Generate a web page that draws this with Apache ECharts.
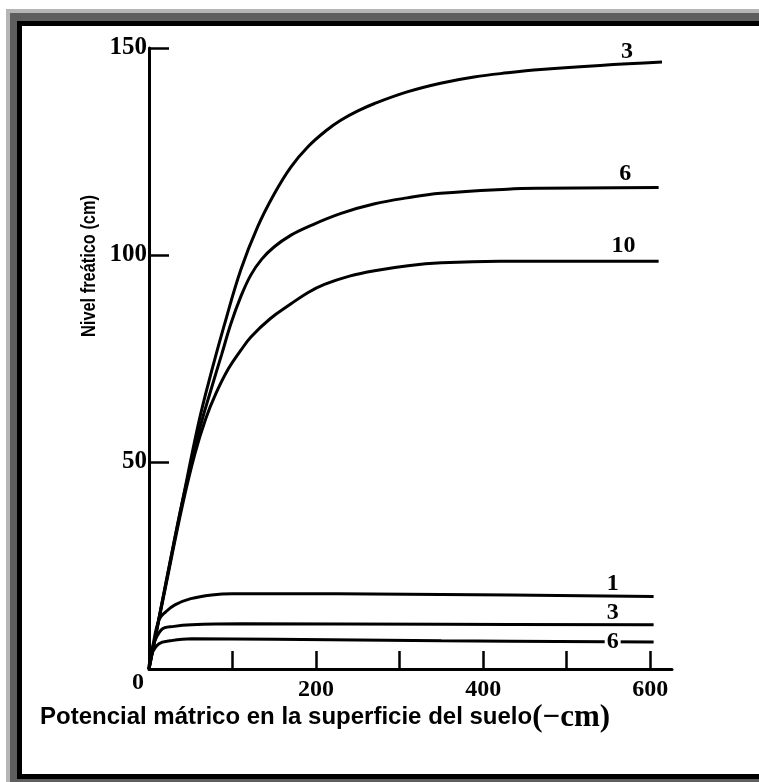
<!DOCTYPE html>
<html><head><meta charset="utf-8">
<script src="https://cdn.jsdelivr.net/npm/echarts@6/dist/echarts.min.js"></script>
<style>html,body{margin:0;padding:0;background:#fff}#c{width:759px;height:782px}</style>
</head><body><div id="c"></div>
<script>
// ---- data (x: -cm, y: cm) ----
const xTop3  = [0, 20, 40, 60, 75, 90, 110, 130, 150, 170, 190, 213, 230, 250, 270, 309, 349, 389, 429, 469, 540, 614];
const yTop3  = [0, 20.5, 40.5, 60, 72, 83, 96.5, 106.8, 114.8, 121.3, 126.1, 130.2, 132.6, 134.8, 136.6, 139.4, 141.5, 143, 144, 144.8, 145.8, 146.6];
const xTop6  = [0, 20, 40, 60, 75, 87, 98, 110, 122, 135, 150, 170, 190, 229, 269, 309, 349, 429, 468, 610];
const yTop6  = [0, 20.5, 40.5, 57.5, 68, 76, 83.4, 90, 95.2, 99, 102, 104.8, 106.8, 110, 112.3, 113.8, 114.9, 115.9, 116.1, 116.3];
const xTop10 = [0, 20, 40, 55, 68, 80, 95, 110, 122, 145, 170, 190, 210, 240, 270, 310, 350, 420, 610];
const yTop10 = [0, 20, 39.5, 52, 60.5, 66.5, 72.5, 77, 80.2, 84.6, 88.2, 90.9, 92.9, 94.9, 96.2, 97.4, 98.1, 98.5, 98.5];
const xLow1  = [0, 5, 12, 20, 31, 50, 75, 100, 350, 604];
const yLow1  = [0, 6, 11.9, 13.8, 15.5, 17, 17.9, 18.2, 18, 17.5];
const xLow3  = [0, 4, 15, 30, 51, 111, 350, 604];
const yLow3  = [0, 5, 9.5, 10.3, 10.7, 10.9, 10.8, 10.7];
const xLow6  = [0, 3, 12, 25, 51, 150, 350, 604];
const yLow6  = [0, 3.5, 6.1, 6.8, 7.3, 7.2, 6.8, 6.5];
const curveLabels = ['3', '6', '10', '1', '3', '6'];
const labelX = [572, 570, 568, 555, 555, 555];
const labelY = [149.2, 119.5, 102.3, 20.6, 13.5, 6.5];
const xTicks = [100, 200, 300, 400, 500, 600];
const xTickLabels = [0, 200, 400, 600];
const yTickLabels = [0, 50, 100, 150];
const xTitle = 'Potencial mátrico en la superficie del suelo';
const xTitleUnit = '(−cm)';
const yTitle = 'Nivel freático (cm)';
// ---------------------------------
const zip = (xs, ys) => xs.map((x, i) => [x, ys[i]]);
const curves = [[xTop3,yTop3],[xTop6,yTop6],[xTop10,yTop10],[xLow1,yLow1],[xLow3,yLow3],[xLow6,yLow6]];
const serif = "'Liberation Serif', 'DejaVu Serif', serif";
const sans = "'Liberation Sans', Arial, sans-serif";

const chart = echarts.init(document.getElementById('c'), null, {renderer: 'canvas'});
const series = curves.map((c, i) => ({
  type: 'line', data: zip(c[0], c[1]), smooth: 0.4, showSymbol: false, symbol: 'none',
  clip: false, lineStyle: {color: '#000', width: 3}, silent: true, z: 3,
  markPoint: {
    symbol: 'circle', symbolSize: 0, silent: true,
    data: [{coord: [labelX[i], labelY[i]], value: curveLabels[i]}],
    label: {show: true, position: 'inside', formatter: curveLabels[i], color: '#000',
      fontFamily: serif, fontSize: 24, fontWeight: 'bold',
      backgroundColor: i === 5 ? '#fff' : 'transparent', padding: [0, 2]}
  }
}));

chart.setOption({
  animation: false,
  backgroundColor: '#fff',
  grid: {left: 149, right: 87, top: 48, bottom: 113, outerBoundsMode: 'none'},
  xAxis: {
    type: 'value', min: 0, max: 626, interval: 100,
    axisLine: {lineStyle: {color: '#000', width: 3}},
    axisTick: {show: true, inside: true, length: 18, customValues: xTicks, lineStyle: {color: '#000', width: 2.5}},
    axisLabel: {customValues: xTickLabels.slice(1), margin: 9, color: '#000', fontFamily: serif, fontSize: 24, fontWeight: 'bold'},
    splitLine: {show: false}
  },
  yAxis: {
    type: 'value', min: 0, max: 150, interval: 50,
    axisLine: {show: true, lineStyle: {color: '#000', width: 3}},
    axisTick: {show: true, inside: true, length: 20, customValues: yTickLabels.slice(1), lineStyle: {color: '#000', width: 2.5}},
    axisLabel: {customValues: yTickLabels.slice(1), margin: 2, color: '#000', fontFamily: serif, fontSize: 25, fontWeight: 'bold'},
    splitLine: {show: false}
  },
  graphic: [
    {type: 'rect', z: -10, silent: true, shape: {x: 6, y: 9, width: 760, height: 780}, style: {fill: '#b5b5b5'}},
    {type: 'rect', z: -9, silent: true, shape: {x: 10, y: 13, width: 760, height: 780}, style: {fill: '#5e5e5e'}},
    {type: 'rect', z: -8, silent: true, shape: {x: 17, y: 21, width: 760, height: 758}, style: {fill: '#000'}},
    {type: 'rect', z: -7, silent: true, shape: {x: 22, y: 26, width: 760, height: 748}, style: {fill: '#fff'}},
    {type: 'text', z: 10, silent: true, left: 40, top: 702,
      style: {text: xTitle + '{u|' + xTitleUnit + '}', font: 'bold 24px ' + sans, fill: '#000',
        rich: {u: {font: 'bold 31px ' + serif, fill: '#000'}}}},
    {type: 'text', z: 10, silent: true, x: 89, y: 266, rotation: Math.PI / 2, scaleX: 0.78,
      style: {text: yTitle, font: 'bold 21px ' + sans, fill: '#000', align: 'center', verticalAlign: 'middle'}},
    {type: 'text', z: 10, silent: true, x: 138, y: 683,
      style: {text: String(xTickLabels[0]), font: 'bold 24px ' + serif, fill: '#000', align: 'center', verticalAlign: 'middle'}}
  ],
  series: series
});
</script></body></html>
